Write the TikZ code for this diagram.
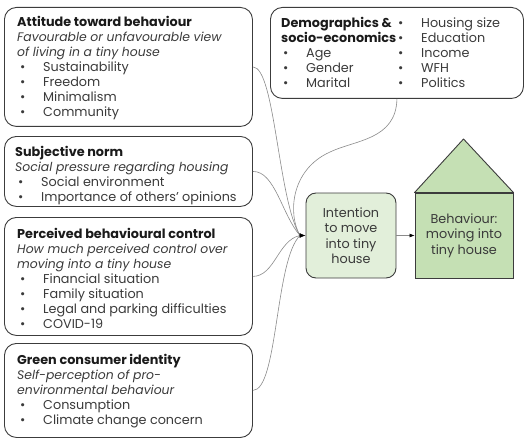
\documentclass[tikz,border=0pt]{standalone}
\usepackage{fontspec}
\setmainfont{Poppins}
\usetikzlibrary{arrows.meta}
\definecolor{txt}{HTML}{3A3A3A}
\definecolor{head}{HTML}{1A1A1A}
\definecolor{edge}{HTML}{3C3C3C}
\definecolor{lgreen}{HTML}{E2EFDA}
\definecolor{mgreen}{HTML}{C5E0B4}
\definecolor{conn}{HTML}{8A8A8A}
\newcommand{\bi}[1]{\hspace*{3pt}\makebox[23pt][l]{•}#1}
\newcommand{\hd}[1]{{\bfseries\color{head}#1}}
\newcommand{\di}[1]{{\fontsize{12.4}{15}\selectfont\itshape #1}}
\begin{document}
\begin{tikzpicture}[x=1pt,y=-1pt,
  box/.style={draw=edge, line width=0.9pt, rounded corners=12pt, inner sep=0pt, anchor=north west},
  body/.style={anchor=north west, align=left, inner sep=0pt, text=txt, font=\fontsize{12.8}{15}\selectfont},
  ctext/.style={align=center, inner sep=0pt, text=txt, font=\fontsize{12.8}{15.5}\selectfont},
  link/.style={draw=conn, line width=0.6pt},
  tip/.style={-{Latex[length=6pt,width=5pt]}, black, line width=0.6pt}
]
\useasboundingbox (0,0) rectangle (527,441);

% left boxes
\node[box, minimum width=248pt, minimum height=119pt] (att) at (4,7) {};
\node[box, minimum width=248pt, minimum height=70pt] (sn) at (4,136) {};
\node[box, minimum width=248pt, minimum height=118pt] (pbc) at (4,217) {};
\node[box, minimum width=248pt, minimum height=94pt] (gci) at (4,343) {};
\node[box, minimum width=253pt, minimum height=91pt] (demo) at (270,7) {};

\node[body] (attT) at (17,16.5) {\hd{Attitude toward behaviour}\\
  \di{Favourable or unfavourable view}\\
  \di{of living in a tiny house}\\
  \bi{Sustainability}\\ \bi{Freedom}\\ \bi{Minimalism}\\ \bi{Community}};
\node[body] (snT) at (15,146.5) {\hd{Subjective norm}\\
  \di{Social pressure regarding housing}\\
  \bi{Social environment}\\ \bi{Importance of others’ opinions}};
\node[body] (pbcT) at (17,228.5) {\hd{Perceived behavioural control}\\
  \di{How much perceived control over}\\
  \di{moving into a tiny house}\\
  \bi{Financial situation}\\ \bi{Family situation}\\ \bi{Legal and parking difficulties}\\ \bi{COVID-19}};
\node[body] (gciT) at (17,354.5) {\hd{Green consumer identity}\\
  \di{Self-perception of pro-}\\
  \di{environmental behaviour}\\
  \bi{Consumption}\\ \bi{Climate change concern}};
\node[body] (demoL) at (281,17.5) {\hd{Demographics \&}\\ \hd{socio-economics}\\
  \hspace*{-1pt}\bi{Age}\\ \hspace*{-1pt}\bi{Gender}\\ \hspace*{-1pt}\bi{Marital}};
\node[body] (demoR) at (395,17.5) {\bi{Housing size}\\ \bi{Education}\\ \bi{Income}\\ \bi{WFH}\\ \bi{Politics}};

% intention and behaviour
\node[draw=edge, line width=0.9pt, fill=lgreen, rounded corners=10pt, minimum width=90pt, minimum height=85pt, ctext] (int) at (351,235.5) {Intention\\to move\\into tiny\\house};
\node[draw=edge, line width=0.9pt, fill=mgreen, minimum width=98pt, minimum height=85pt, ctext] (beh) at (464,235.5) {Behaviour:\\moving into\\tiny house};
\coordinate (apex) at (463.5,139);
\filldraw[draw=edge, line width=0.9pt, fill=mgreen, line join=round] (beh.north west) -- (apex) -- (beh.north east) -- cycle;

% connectors
\coordinate (cv) at (300,235.5);
\draw[link] (att.east) .. controls (275,67) and (278,200) .. (cv);
\draw[link] (demo.south) .. controls (396,140) and (355,140) .. (330,152) .. controls (290,170) and (288,215) .. (cv);
\draw[link] (sn.east) .. controls (275,171) and (282,215) .. (cv);
\draw[link] (pbc.east) .. controls (275,276) and (278,240) .. (cv);
\draw[link] (gci.east) .. controls (278,390) and (275,260) .. (cv);
\draw[tip] (cv) -- (int.west);
\draw[link, -{Latex[length=5pt,width=4pt,black]}] (int.east) -- (beh.west);
\end{tikzpicture}
\end{document}
